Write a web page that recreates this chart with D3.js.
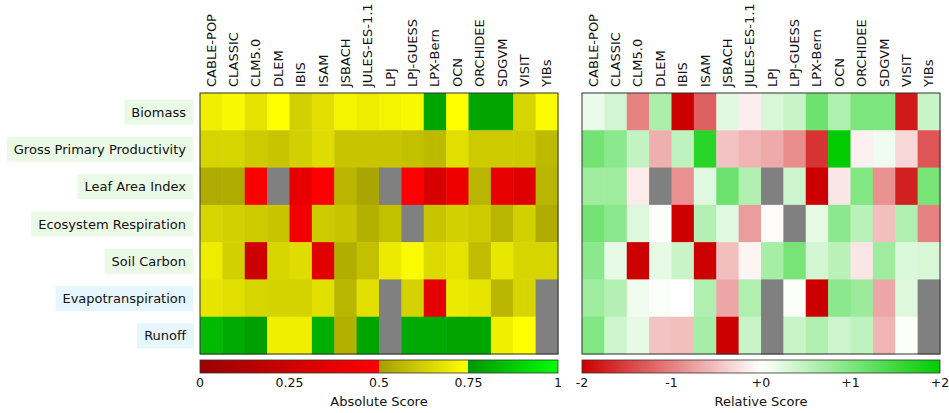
<!DOCTYPE html>
<html><head><meta charset="utf-8">
<script src="https://cdn.jsdelivr.net/npm/d3@7/dist/d3.min.js"></script>
<style>body{margin:0;background:#fff;} text{font-family:"DejaVu Sans",sans-serif;fill:#111;}</style>
</head><body><svg id="c" width="949" height="413"></svg>
<script>
const models = ["CABLE-POP","CLASSIC","CLM5.0","DLEM","IBIS","ISAM","JSBACH","JULES-ES-1.1","LPJ","LPJ-GUESS","LPX-Bern","OCN","ORCHIDEE","SDGVM","VISIT","YIBs"];
const variables = ["Biomass","Gross Primary Productivity","Leaf Area Index","Ecosystem Respiration","Soil Carbon","Evapotranspiration","Runoff"];
const variableGroup = ["carbon","carbon","carbon","carbon","carbon","water","water"];
// Absolute scores (null = missing)
const absBiomass = [0.708,0.731,0.675,0.749,0.625,0.667,0.722,0.703,0.722,0.731,0.786,0.749,0.786,0.786,0.639,0.736];
const absGPP     = [0.639,0.639,0.611,0.597,0.625,0.658,0.597,0.597,0.597,0.583,0.569,0.667,0.611,0.611,0.611,0.569];
const absLAI     = [0.528,0.528,0.475,null,0.385,0.475,0.556,0.514,null,0.495,0.300,0.415,0.556,0.385,0.335,0.556];
const absResp    = [0.639,0.625,0.611,0.597,0.425,0.611,0.597,0.542,0.583,null,0.597,0.625,0.611,0.556,0.625,0.528];
const absSoilC   = [0.703,0.625,0.250,0.639,0.658,0.350,0.536,0.583,0.694,0.736,0.653,0.675,0.575,0.686,0.639,0.639];
const absET      = [0.681,0.667,0.639,0.631,0.631,0.667,0.556,0.667,null,0.631,0.365,0.694,0.681,0.556,0.639,null];
const absRunoff  = [0.833,0.798,0.774,0.708,0.708,0.810,0.542,0.786,null,0.798,0.798,0.786,0.786,0.708,0.749,null];
// Relative scores
const relBiomass = [0.16,0.35,-0.98,0.67,-2.0,-1.25,0.24,-0.13,0.31,0.43,1.14,0.63,1.02,1.02,-1.8,0.43];
const relGPP     = [1.1,0.9,0.47,-0.63,0.51,1.69,-0.47,-0.59,-0.67,-0.9,-1.6,2.0,-0.12,0.12,-0.31,-1.33];
const relLAI     = [0.75,0.75,-0.16,null,-0.86,0.24,1.14,0.63,null,0.39,-2.0,-0.2,0.98,-0.86,-1.76,1.06];
const relResp    = [1.1,0.9,0.27,0.02,-2.0,0.59,0.24,-0.78,-0.03,null,0.2,0.9,0.55,-0.51,0.63,-0.98];
const relSoilC   = [0.9,0.2,-2.0,0.2,0.43,-2.0,-0.51,-0.09,0.7,1.06,0.35,0.55,-0.2,0.75,0.29,0.31];
const relET      = [0.75,0.59,0.12,0.05,0.0,0.63,-0.7,0.63,null,0.05,-2.0,0.9,0.78,-0.7,0.27,null];
const relRunoff  = [0.98,0.39,0.2,-0.47,-0.51,0.7,-2.0,0.43,null,0.43,0.63,0.39,0.51,-0.59,0.02,null];
const absTicks = [0,0.25,0.5,0.75,1];
const absTickLabels = ["0","0.25","0.5","0.75","1"];
const relTicks = [-2,-1,0,1,2];
const relTickLabels = ["-2","-1","+0","+1","+2"];

const absRows = [absBiomass,absGPP,absLAI,absResp,absSoilC,absET,absRunoff];
const relRows = [relBiomass,relGPP,relLAI,relResp,relSoilC,relET,relRunoff];

const svg = d3.select("#c");
const defs = svg.append("defs");
const yTop = 93, yBottom = 354;
const panels = [{x0:200,x1:558,rows:absRows,kind:"abs"},{x0:582,x1:940,rows:relRows,kind:"rel"}];

const sRed = d3.scaleLinear().domain([0,0.5]).range(["#9b0000","#ff0000"]).clamp(true);
const sYel = d3.scaleLinear().domain([0.5,0.75]).range(["#a5a000","#ffff00"]).clamp(true);
const sGrn = d3.scaleLinear().domain([0.75,1]).range(["#009600","#00ff00"]).clamp(true);
function absColor(v){ return v<0.5? sRed(v) : (v<0.75? sYel(v): sGrn(v)); }
const relColor = d3.scaleLinear().domain([-2,0,2]).range(["#cc0000","#ffffff","#00cc00"]).clamp(true);

const absStops = [];
[sRed,sYel,sGrn].forEach(s=>{ s.domain().forEach((d,i)=>absStops.push({o:d,c:s.range()[i]})); });
const relStops = relColor.domain().map((d,i)=>({o:(d+2)/4,c:relColor.range()[i]}));

const y = d3.scaleBand().domain(variables).range([yTop,yBottom]);

panels.forEach(p=>{
  const x = d3.scaleBand().domain(models).range([p.x0,p.x1]);
  const g = svg.append("g");
  p.rows.forEach((row,ri)=>{
    row.forEach((v,ci)=>{
      g.append("rect").attr("x",x(models[ci])).attr("y",y(variables[ri]))
       .attr("width",x.bandwidth()+0.5).attr("height",y.bandwidth()+0.5)
       .attr("fill", v===null? "#808080" : (p.kind==="abs"? absColor(v): relColor(v)));
    });
  });
  g.append("rect").attr("x",p.x0).attr("y",yTop).attr("width",p.x1-p.x0).attr("height",yBottom-yTop)
   .attr("fill","none").attr("stroke","#333").attr("stroke-width",1);
  models.forEach(m=>{
    svg.append("text").attr("transform",`translate(${x(m)+x.bandwidth()/2+4.5},87) rotate(-90)`)
      .attr("text-anchor","start").attr("font-size",13).text(m);
  });
  const gid = "grad-"+p.kind;
  const grad = defs.append("linearGradient").attr("id",gid).attr("x1","0%").attr("x2","100%").attr("y1","0%").attr("y2","0%");
  (p.kind==="abs"? absStops: relStops).forEach(s=>{
    grad.append("stop").attr("offset",(s.o*100)+"%").attr("stop-color",s.c);
  });
  const cb = svg.append("g");
  const cy0=360, cy1=373;
  const cs = d3.scaleLinear().domain(p.kind==="abs"?[0,1]:[-2,2]).range([p.x0,p.x1]);
  cb.append("rect").attr("x",p.x0).attr("y",cy0).attr("width",p.x1-p.x0).attr("height",cy1-cy0)
    .attr("fill",`url(#${gid})`).attr("stroke","#333").attr("stroke-width",0.8);
  const ticks = p.kind==="abs"? absTicks: relTicks;
  const labs = p.kind==="abs"? absTickLabels: relTickLabels;
  ticks.forEach((t,i)=>{
    cb.append("text").attr("x",cs(t)).attr("y",387).attr("text-anchor","middle").attr("font-size",12.5).text(labs[i]);
  });
  cb.append("text").attr("x",(p.x0+p.x1)/2).attr("y",406).attr("text-anchor","middle").attr("font-size",13)
    .text(p.kind==="abs"?"Absolute Score":"Relative Score");
});

variables.forEach((v,i)=>{
  const cy = y(v)+y.bandwidth()/2;
  const t = svg.append("text").attr("x",186).attr("y",cy+5).attr("text-anchor","end").attr("font-size",13).text(v);
  const bb = t.node().getBBox();
  svg.insert("rect","text").attr("x",bb.x-7).attr("y",cy-12).attr("width",bb.width+14).attr("height",25)
    .attr("fill", variableGroup[i]==="carbon"?"#ebfae6":"#e6f6fd");
});
</script></body></html>
